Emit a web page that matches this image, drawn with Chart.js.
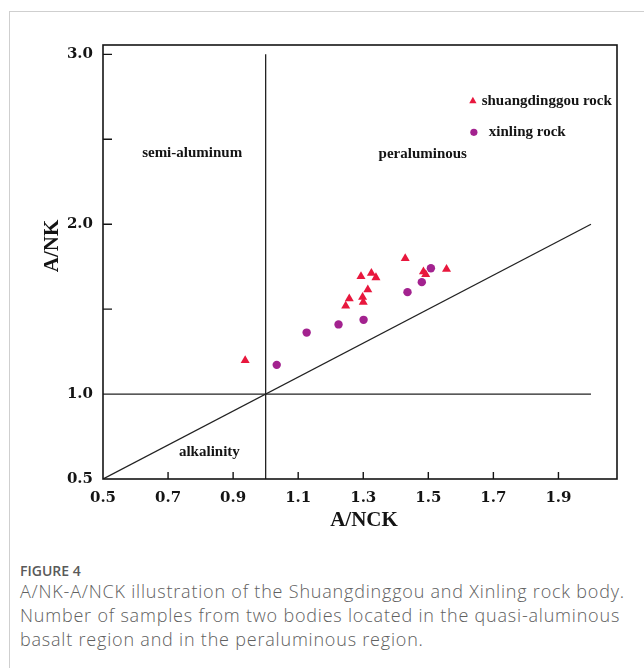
<!DOCTYPE html>
<html><head><meta charset="utf-8">
<script src="https://cdn.jsdelivr.net/npm/chart.js@4.4.0/dist/chart.umd.min.js"></script>
<style>
html,body{margin:0;padding:0;background:#fff;width:644px;height:668px;overflow:hidden;}
#card{position:absolute;left:9px;top:11px;width:720px;height:720px;border:1px solid #cfcfcf;box-sizing:border-box;}
#wrap{position:absolute;left:0;top:0;width:644px;height:540px;}
#cap{position:absolute;left:20px;top:562px;width:624px;font-family:"Open Sans",sans-serif;color:#606060;white-space:nowrap;}
.fig{font-size:14px;line-height:17px;font-weight:600;color:#5a5a5a;}
.txt{font-size:18px;line-height:24px;font-weight:300;letter-spacing:0.8px;}
</style></head>
<body>
<div id="card"></div>
<div id="wrap"><canvas id="c" width="644" height="540"></canvas></div>
<div id="cap"><div class="fig">FIGURE 4</div><div class="txt">A/NK-A/NCK illustration of the Shuangdinggou and Xinling rock body.<br>Number of samples from two bodies located in the quasi-aluminous<br>basalt region and in the peraluminous region.</div></div>
<script>
// ---- data ----
const xTickLabels = [0.5, 0.7, 0.9, 1.1, 1.3, 1.5, 1.7, 1.9];
const yTickLabels = [0.5, 1.0, 2.0, 3.0];
const xTickMarks = [0.7, 0.9, 1.1, 1.3, 1.5, 1.7, 1.9];
const yTickMarks = [1.5, 2.0, 2.5, 3.0];

const shuangX = [0.937, 1.246, 1.257, 1.298, 1.300, 1.314, 1.293, 1.325, 1.339, 1.429, 1.485, 1.492, 1.556];
const shuangY = [1.198, 1.519, 1.562, 1.571, 1.541, 1.614, 1.692, 1.712, 1.686, 1.798, 1.721, 1.704, 1.735];
const xinlingX = [1.034, 1.126, 1.224, 1.301, 1.436, 1.480, 1.508];
const xinlingY = [1.172, 1.362, 1.410, 1.437, 1.600, 1.659, 1.741];

const vLineX = [1.0, 1.0], vLineY = [0.5, 3.0];
const hLineX = [0.5, 2.0], hLineY = [1.0, 1.0];
const dLineX = [0.5, 2.0], dLineY = [0.5, 2.0];

const regionNames = ['semi-aluminum', 'peraluminous', 'alkalinity'];
const regionX = [0.774, 1.483, 0.827];
const regionY = [2.42, 2.414, 0.656];

const seriesNames = ['shuangdinggou rock', 'xinling rock'];
const legendX = [1.637, 1.640];
const legendY = [2.725, 2.541];
const legendTextX = [1.664, 1.686];

const xTitle = 'A/NCK', yTitle = 'A/NK';
// ---------------

const zip = (xs, ys) => xs.map((x, i) => ({x, y: ys[i]}));
const RED = '#e8173d', PURPLE = '#a3228f', INK = '#141414';
const SERIF = '"Liberation Serif", "Times New Roman", serif';
const TICKFONT = '"DejaVu Serif", serif';

const lineDs = (xs, ys) => ({type: 'line', data: zip(xs, ys), borderColor: '#222', borderWidth: 1.3,
  pointRadius: 0, fill: false, tension: 0, order: 5});

const overlay = {
  id: 'overlay',
  afterDraw(chart) {
    const {ctx, chartArea: a, scales: {x, y}} = chart;
    ctx.save();
    // frame
    ctx.strokeStyle = INK; ctx.lineWidth = 1.6;
    ctx.strokeRect(a.left, a.top, a.right - a.left, a.bottom - a.top);
    // inward ticks
    ctx.lineWidth = 1.4;
    ctx.beginPath();
    xTickMarks.forEach(v => { const px = x.getPixelForValue(v); ctx.moveTo(px, a.bottom); ctx.lineTo(px, a.bottom - 7); });
    yTickMarks.forEach(v => { const py = y.getPixelForValue(v); ctx.moveTo(a.left, py); ctx.lineTo(a.left + 9, py); });
    ctx.stroke();
    // region labels
    ctx.fillStyle = INK;
    ctx.font = 'bold 15px ' + SERIF;
    ctx.textAlign = 'center'; ctx.textBaseline = 'middle';
    regionNames.forEach((t, i) => ctx.fillText(t, x.getPixelForValue(regionX[i]), y.getPixelForValue(regionY[i])));
    // legend
    const ds = chart.data.datasets;
    [0, 1].forEach(i => {
      const d = ds[i];
      const px = x.getPixelForValue(legendX[i]), py = y.getPixelForValue(legendY[i]);
      ctx.fillStyle = d.backgroundColor;
      Chart.helpers.drawPoint(ctx, {pointStyle: d.pointStyle, radius: i === 0 ? 4.2 : 3.6, rotation: 0, borderWidth: 0}, px, py);
      ctx.fillStyle = INK;
      ctx.textAlign = 'left';
      ctx.fillText(seriesNames[i], x.getPixelForValue(legendTextX[i]), py);
    });
    // axis titles
    ctx.font = 'bold 21px ' + SERIF;
    ctx.textAlign = 'center';
    ctx.fillText(xTitle, (a.left + a.right) / 2 + 4, a.bottom + 42);
    ctx.translate(53, (a.top + a.bottom) / 2 - 16);
    ctx.rotate(-Math.PI / 2);
    ctx.fillText(yTitle, 0, 0);
    ctx.restore();
  }
};

new Chart(document.getElementById('c'), {
  type: 'scatter',
  data: {
    datasets: [
      {label: seriesNames[0], data: zip(shuangX, shuangY), pointStyle: 'triangle', pointRadius: 5.2,
       pointHoverRadius: 5.2, backgroundColor: RED, borderColor: RED, borderWidth: 0, order: 1},
      {label: seriesNames[1], data: zip(xinlingX, xinlingY), pointStyle: 'circle', pointRadius: 4.2,
       pointHoverRadius: 4.2, backgroundColor: PURPLE, borderColor: PURPLE, borderWidth: 0, order: 2},
      lineDs(vLineX, vLineY), lineDs(hLineX, hLineY), lineDs(dLineX, dLineY)
    ]
  },
  options: {
    responsive: false, animation: false, devicePixelRatio: 1,
    layout: {padding: {top: 45, right: 27, left: 0, bottom: 0}},
    plugins: {legend: {display: false}, tooltip: {enabled: false}},
    scales: {
      x: {
        type: 'linear', min: 0.5, max: 2.08,
        afterBuildTicks: s => { s.ticks = xTickLabels.map(v => ({value: v})); },
        afterFit: s => { s.height = 61; },
        grid: {display: false, drawTicks: false},
        border: {display: false},
        ticks: {autoSkip: false, maxRotation: 0, padding: 10, color: INK,
          font: {family: TICKFONT, size: 15, weight: 'bold'},
          callback: v => v.toFixed(1)}
      },
      y: {
        type: 'linear', min: 0.5, max: 3.055,
        afterBuildTicks: s => { s.ticks = yTickLabels.map(v => ({value: v})); },
        afterFit: s => { s.width = 103; },
        grid: {display: false, drawTicks: false},
        border: {display: false},
        ticks: {autoSkip: false, padding: 10, color: INK,
          font: {family: TICKFONT, size: 15, weight: 'bold'},
          callback: v => v.toFixed(1)}
      }
    }
  },
  plugins: [overlay]
});
</script>
</body></html>
